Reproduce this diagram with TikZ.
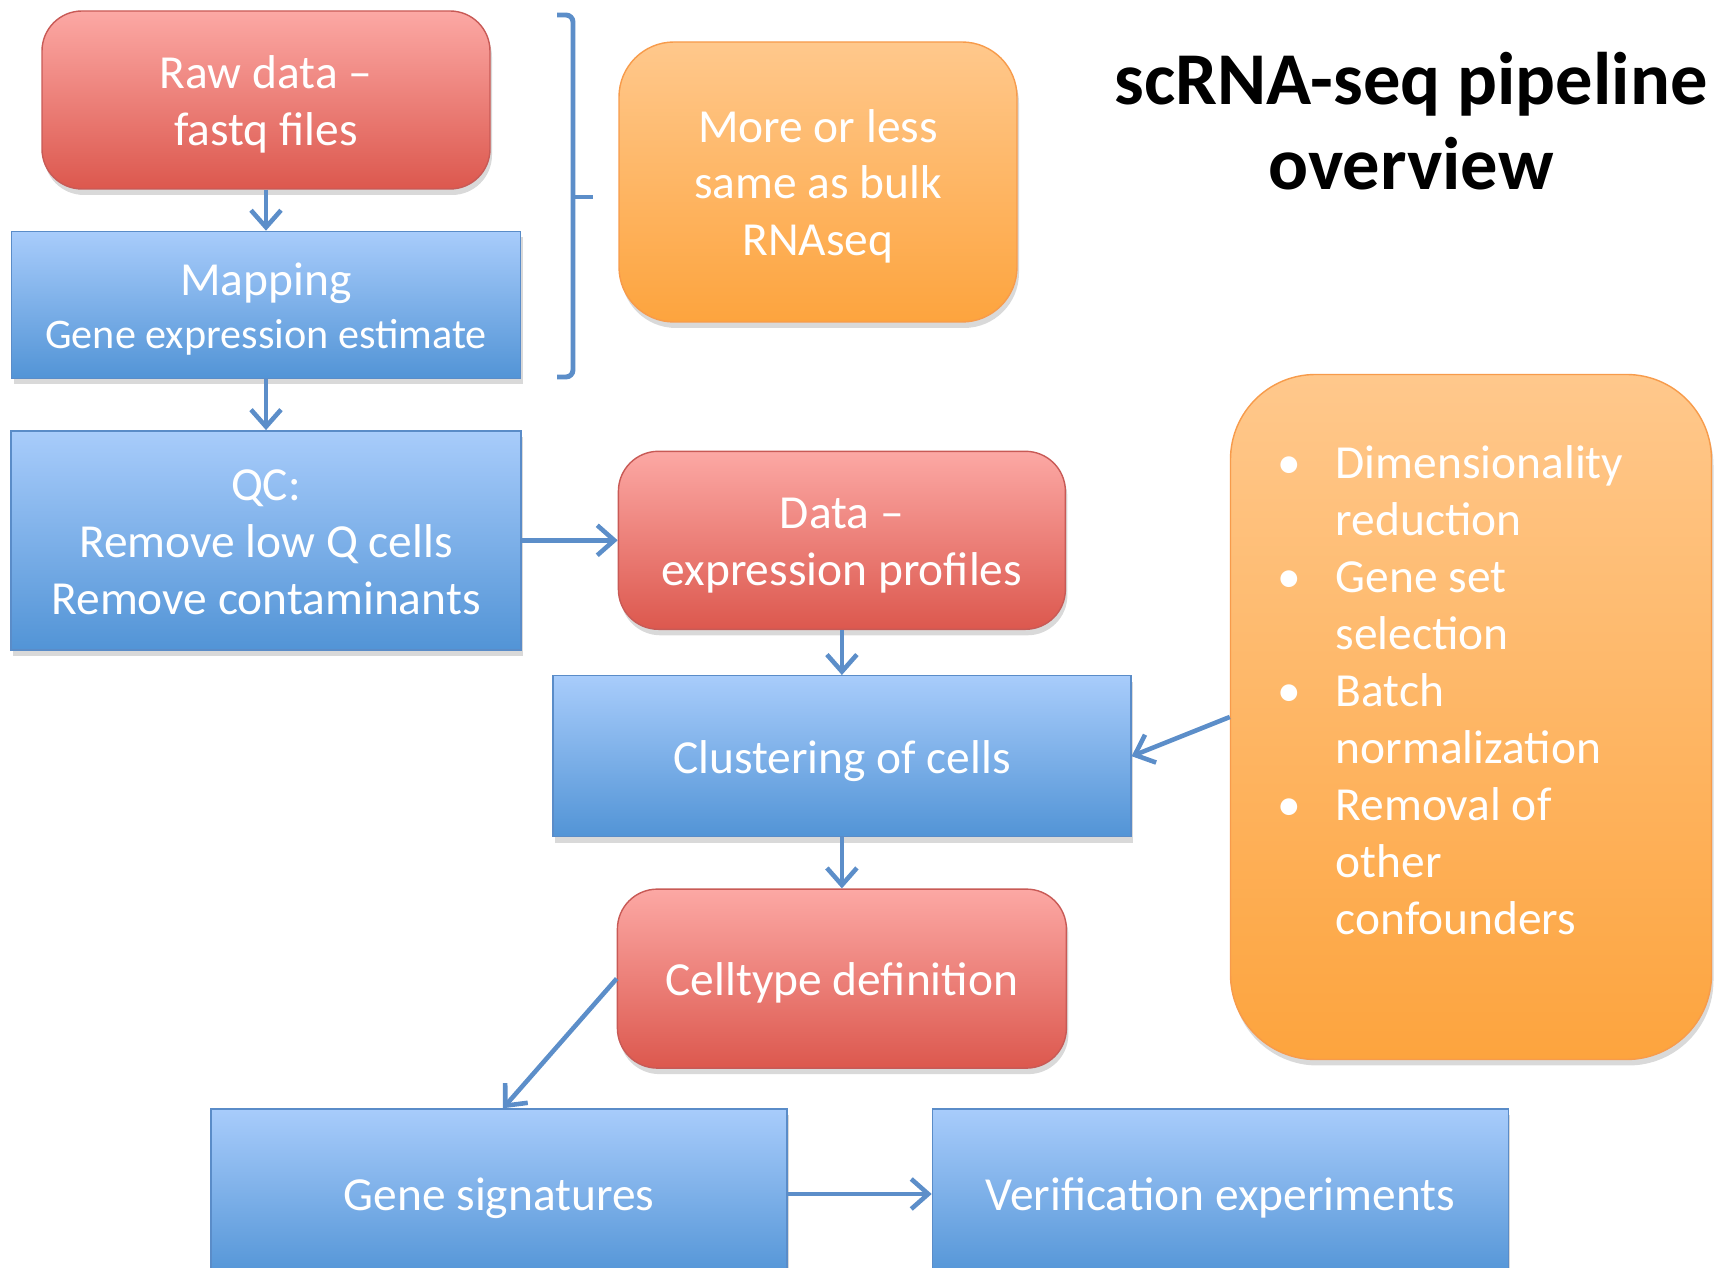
\documentclass[tikz,border=0pt]{standalone}
\usepackage{fontspec}
\setmainfont{Carlito}
\usepackage{tikz}
\usetikzlibrary{arrows.meta, positioning, shadows}

\definecolor{redtop}{RGB}{252,168,164}
\definecolor{redbot}{RGB}{220,88,78}
\definecolor{redline}{RGB}{200,90,86}
\definecolor{bluetop}{RGB}{168,204,251}
\definecolor{bluebot}{RGB}{82,148,214}
\definecolor{blueline}{RGB}{90,140,200}
\definecolor{orangetop}{RGB}{255,200,140}
\definecolor{orangebot}{RGB}{253,164,62}
\definecolor{orangeline}{RGB}{247,155,75}
\definecolor{arrowblue}{RGB}{92,142,201}

% fixed line heights, as in the slide text boxes
\newcommand{\tstrut}{\rule{0pt}{0.46cm}}
\newcommand{\bstrut}{\rule[-0.12cm]{0pt}{0pt}}

\begin{document}
\begin{tikzpicture}[
    boxtext/.style={align=center, text=white, font=\fontsize{13.5}{16.2}\selectfont},
    redbox/.style={draw=redline, rectangle, rounded corners=0.4cm, top color=redtop, bottom color=redbot, boxtext, drop shadow={shadow xshift=0.02cm, shadow yshift=-0.06cm, opacity=0.3}},
    bluebox/.style={draw=blueline, rectangle, top color=bluetop, bottom color=bluebot, boxtext, drop shadow={shadow xshift=0.02cm, shadow yshift=-0.06cm, opacity=0.3}},
    notebox/.style={draw=orangeline, rectangle, top color=orangetop, bottom color=orangebot, boxtext, drop shadow={shadow xshift=0.02cm, shadow yshift=-0.06cm, opacity=0.3}},
    arrow/.style={-{Straight Barb[length=0.17cm, width=0.3cm]}, line width=1.3pt, draw=arrowblue},
    bracket/.style={line width=1.4pt, draw=arrowblue, rounded corners=2pt}
]
\useasboundingbox (0,0) rectangle (17.19,-12.68);
\clip (0,0) rectangle (17.19,-12.68);

\node[redbox, minimum width=4.48cm, minimum height=1.78cm] (raw) at (2.66,-1.00) {\tstrut Raw data --\\fastq files\bstrut};
\node[bluebox, below=0.41cm of raw, minimum width=5.09cm, minimum height=1.47cm, font=\fontsize{13.5}{14.9}\selectfont] (map) {\tstrut Mapping\\{\fontsize{12}{14.9}\selectfont Gene expression estimate}\bstrut};
\node[bluebox, below=0.51cm of map, minimum width=5.10cm, minimum height=2.19cm] (qc) {\tstrut QC:\\Remove low Q cells\\Remove contaminants\bstrut};

\node[redbox, right=0.96cm of qc, minimum width=4.47cm, minimum height=1.78cm] (data) {\tstrut Data --\\expression profiles\bstrut};
\node[bluebox, below=0.45cm of data, minimum width=5.78cm, minimum height=1.61cm] (cluster) {\tstrut Clustering of cells\bstrut};
\node[redbox, below=0.51cm of cluster, minimum width=4.49cm, minimum height=1.79cm] (celltype) {\tstrut Celltype definition\bstrut};

\node[bluebox, minimum width=5.76cm, minimum height=1.70cm] (genesig) at (4.99,-11.94) {\tstrut Gene signatures\bstrut};
\node[bluebox, right=1.44cm of genesig, minimum width=5.76cm, minimum height=1.70cm] (verif) {\tstrut Verification experiments\bstrut};

\node[notebox, rounded corners=0.55cm, minimum width=3.98cm, minimum height=2.80cm] (bulk) at (8.18,-1.82) {\tstrut More or less\\same as bulk\\RNAseq\bstrut};
\node[notebox, rounded corners=0.85cm, minimum width=4.81cm, minimum height=6.85cm] (extra) at (14.71,-7.17) {};
\node[anchor=north west, inner sep=0pt, align=left, text=white, font=\fontsize{13.5}{16.2}\selectfont] (steps) at (12.77,-4.45) {%
\makebox[0.58cm][l]{\textbullet}Dimensionality\\
\hspace*{0.58cm}reduction\\
\makebox[0.58cm][l]{\textbullet}Gene set\\
\hspace*{0.58cm}selection\\
\makebox[0.58cm][l]{\textbullet}Batch\\
\hspace*{0.58cm}normalization\\
\makebox[0.58cm][l]{\textbullet}Removal of\\
\hspace*{0.58cm}other\\
\hspace*{0.58cm}confounders};

\node[align=center, font=\bfseries\fontsize{21.2}{24.3}\selectfont] (title) at (14.11,-1.21) {scRNA-seq pipeline\\overview};

\draw[bracket] (5.57,-0.15) -- (5.73,-0.15) -- (5.73,-3.77) -- (5.57,-3.77);
\draw[bracket] (5.73,-1.97) -- (5.93,-1.97);

\draw[arrow] (raw) -- (map);
\draw[arrow] (map) -- (qc);
\draw[arrow] (qc) -- (data);
\draw[arrow] (data) -- (cluster);
\draw[arrow] (cluster) -- (celltype);
\draw[arrow] (extra.west) -- (cluster.east);
\draw[arrow] (celltype.west) -- ([xshift=0.04cm]genesig.north);
\draw[arrow] (genesig) -- (verif);
\end{tikzpicture}
\end{document}
